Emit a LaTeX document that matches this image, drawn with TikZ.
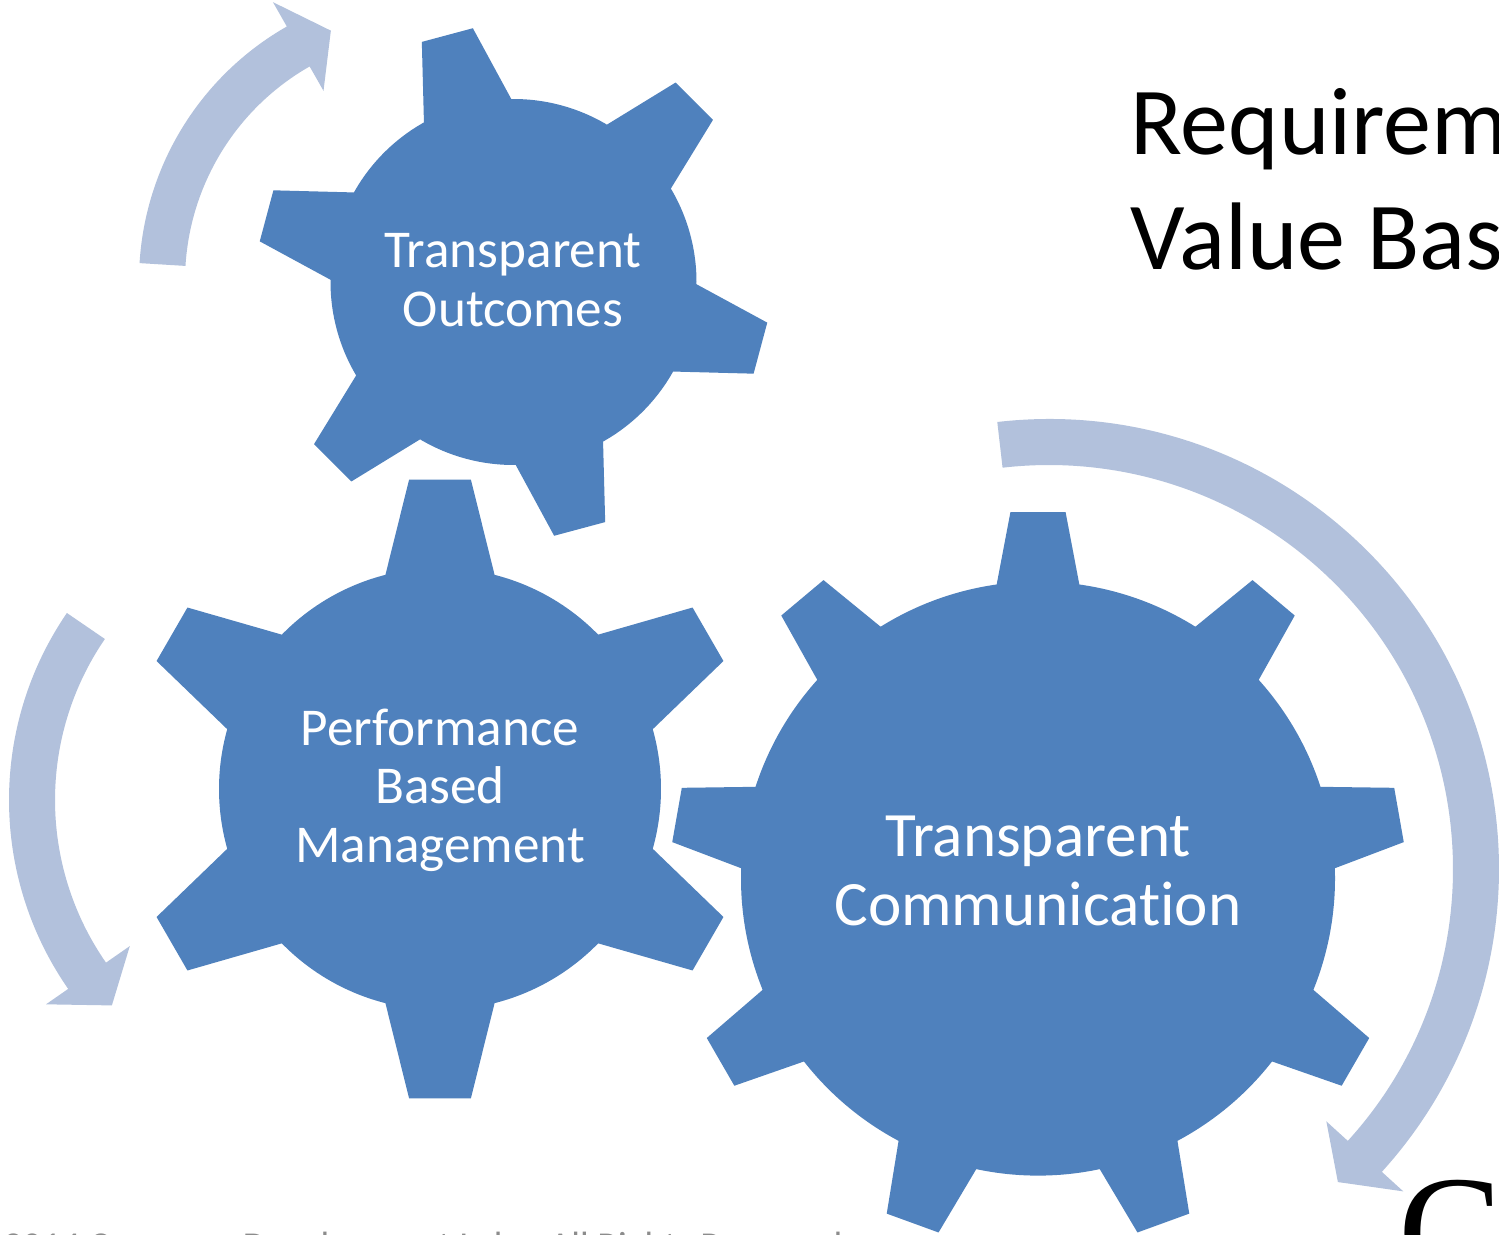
\documentclass[tikz,border=0pt]{standalone}
\usepackage{fontspec}
\setmainfont{Carlito}[Ligatures=NoCommon]
\newfontfamily\serifC{Liberation Serif}
\definecolor{gearblue}{HTML}{4F81BD}
\definecolor{arrowblue}{HTML}{B2C1DC}
\definecolor{footgray}{HTML}{8C8C8C}
\tikzset{
  gear/.style={fill=gearblue},
  cyclearrow/.style={fill=arrowblue},
  geartext/.style={text=white, inner sep=0pt, anchor=base},
}
\begin{document}
\begin{tikzpicture}[x=0.5pt,y=0.5pt]
\useasboundingbox (0,0) rectangle (1499,-1235);
\clip (0,0) rectangle (1499,-1235);
\fill[white] (0,0) rectangle (1499,-1235);

% ---------- arrows ----------
% arrow 1 (top left)
\begin{scope}[shift={(432,-281)}]
\fill[cyclearrow] (176.5:293) arc[start angle=176.5, end angle=119.7, radius=293]
  -- (119.7:321) -- (112:270) -- (119.7:219) -- (119.7:247)
  arc[start angle=119.7, end angle=176.5, radius=247] -- cycle;
\end{scope}
% arrow 2 (left)
\begin{scope}[shift={(340,-800)}]
\fill[cyclearrow] (145.6:331) arc[start angle=145.6, end angle=214.8, radius=331]
  -- (214.8:358) -- (222:307) -- (214.8:256) -- (214.8:285)
  arc[start angle=214.8, end angle=145.6, radius=285] -- cycle;
\end{scope}
% arrow 3 (right)
\begin{scope}[shift={(1049,-869)}]
\fill[cyclearrow] (96.6:450) arc[start angle=96.6, end angle=-42.3, radius=450]
  -- (-42.3:479) -- (-47.3:426) -- (-42.3:375) -- (-42.3:404)
  arc[start angle=-42.3, end angle=96.6, radius=404] -- cycle;
\end{scope}

% ---------- gears ----------
% gear 1
\begin{scope}[shift={(513.5,-282)}]
\fill[gear] ({-195-14.3}:183)
  \foreach \a in {-195,-135,-75,-15,45,105} {
    -- ({\a-14.3}:183) -- ({\a-5.9}:257) -- ({\a+5.9}:257) -- ({\a+14.3}:183)
    arc[start angle={\a+14.3}, end angle={\a+45.7}, radius=183]
  } -- cycle;
\end{scope}
% gear 2
\begin{scope}[shift={(440,-789)}]
\fill[gear] ({-210-14.3}:221)
  \foreach \a in {-210,-150,-90,-30,30,90} {
    -- ({\a-14.3}:221) -- ({\a-5.7}:311) -- ({\a+5.7}:311) -- ({\a+14.3}:221)
    arc[start angle={\a+14.3}, end angle={\a+45.7}, radius=221]
  } -- cycle;
\end{scope}
% gear 3
\begin{scope}[shift={(1038,-878.6)}]
\fill[gear] ({-190-8}:297)
  \foreach \a in {-190,-150,-110,-70,-30,10,50,90,130} {
    -- ({\a-8}:297) -- ({\a-4.3}:367.6) -- ({\a+4.3}:367.6) -- ({\a+8}:297)
    arc[start angle={\a+8}, end angle={\a+32}, radius=297]
  } -- cycle;
\end{scope}

% ---------- gear texts ----------
\node[geartext, font=\fontsize{26.6}{29.5}\selectfont] (g1a) at (513,-268) {Transparent};
\node[geartext, font=\fontsize{26.6}{29.5}\selectfont] (g1b) at (513,-327) {Outcomes};
\node[geartext, font=\fontsize{26.6}{29.5}\selectfont] (g2a) at (440,-745) {Performance};
\node[geartext, font=\fontsize{26.6}{29.5}\selectfont] (g2b) at (440,-803) {Based};
\node[geartext, font=\fontsize{26.6}{29.5}\selectfont] (g2c) at (440,-862) {Management};
\node[geartext, font=\fontsize{31.6}{34.5}\selectfont] (g3a) at (1038,-856) {Transparent};
\node[geartext, font=\fontsize{31.6}{34.5}\selectfont] (g3b) at (1038,-925) {Communication};

% ---------- title ----------
\node[inner sep=0pt, anchor=base west, font=\fontsize{48}{57}\selectfont] (title1) at (1130,-155) {Requirements for};
\node[inner sep=0pt, anchor=base west, font=\fontsize{48}{57}\selectfont] (title2) at (1130,-270) {Value Based Care};

% ---------- bottom texts ----------
\node[inner sep=0pt, anchor=base west, text=footgray, font=\fontsize{19}{22}\selectfont] (footer) at (3,-1258.5) {2014 Company Development Labs. All Rights Reserved};
\node[inner sep=0pt, anchor=base west, font=\serifC\fontsize{78}{90}\selectfont] (bigC) at (1398,-1283) {C};
\end{tikzpicture}
\end{document}
